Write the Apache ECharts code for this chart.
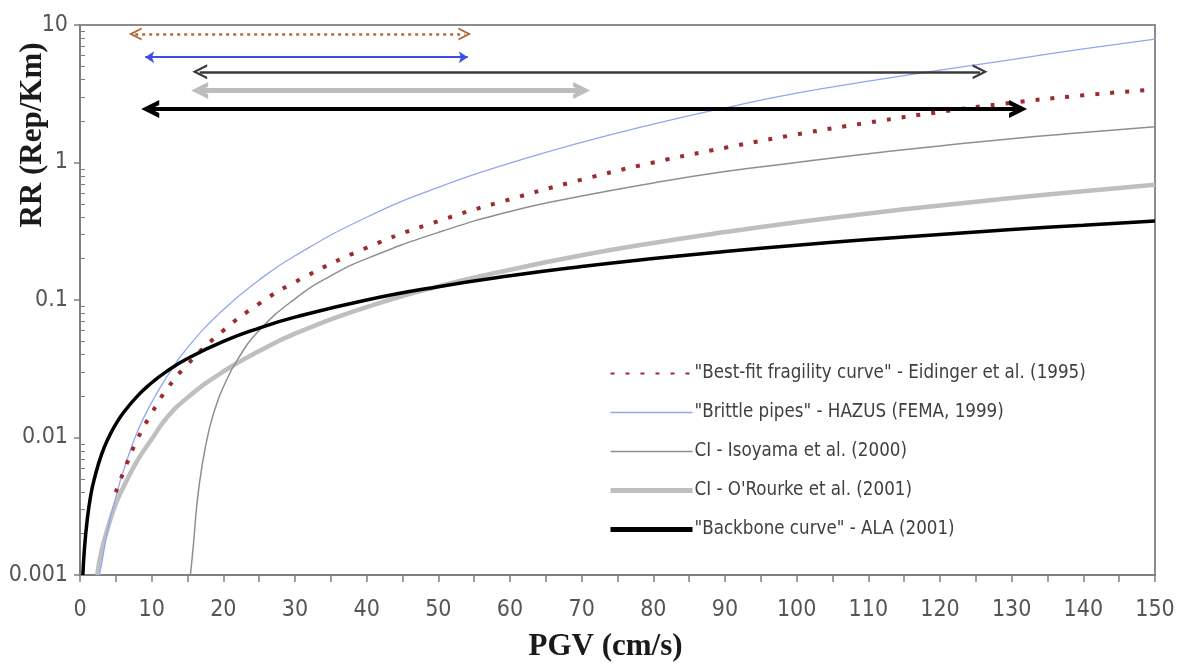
<!DOCTYPE html>
<html>
<head>
<meta charset="utf-8">
<script src="https://cdn.jsdelivr.net/npm/echarts@6/dist/echarts.min.js"></script>
<style>
  html, body { margin: 0; padding: 0; background: #fff; }
  #chart { width: 1180px; height: 667px; }
</style>
</head>
<body>
<div id="chart"></div>
<script>
'use strict';

// PGV (cm/s) and RR (Rep/Km)
var pgvEidinger = [5, 6, 8, 10, 12, 15, 20, 25, 30, 40, 50, 60, 70, 80, 90, 100, 110, 120, 130, 140, 150];
var rrEidinger = [0.004, 0.0055, 0.0097, 0.015, 0.022, 0.034, 0.06, 0.094, 0.135, 0.24, 0.375, 0.54, 0.75, 1.0, 1.28, 1.6, 1.95, 2.33, 2.72, 3.08, 3.4];

var pgvHazus = [2.7, 3, 4, 5, 6, 8, 10, 12, 15, 20, 25, 30, 40, 50, 60, 70, 80, 90, 100, 110, 120, 130, 140, 150];
var rrHazus = [0.001, 0.0012, 0.0023, 0.0037, 0.0056, 0.011, 0.018, 0.027, 0.045, 0.085, 0.14, 0.21, 0.4, 0.66, 0.99, 1.4, 1.9, 2.5, 3.2, 3.9, 4.7, 5.6, 6.7, 7.9];

var pgvIsoyama = [15.4, 15.8, 16.3, 17, 18, 19, 20, 22, 25, 30, 35, 40, 50, 60, 70, 80, 90, 100, 110, 120, 130, 140, 150];
var rrIsoyama = [0.001, 0.0016, 0.0032, 0.0061, 0.0113, 0.0171, 0.0233, 0.037, 0.06, 0.102, 0.15, 0.2, 0.31, 0.44, 0.57, 0.71, 0.86, 1.0, 1.16, 1.32, 1.49, 1.65, 1.82];

var pgvORourke = [2.4, 3, 4, 5, 6, 8, 10, 12, 15, 20, 25, 30, 40, 50, 60, 70, 80, 90, 100, 110, 120, 130, 140, 150];
var rrORourke = [0.001, 0.0015, 0.0023, 0.0033, 0.0043, 0.0068, 0.0097, 0.0137, 0.0195, 0.0302, 0.0425, 0.057, 0.0888, 0.1257, 0.166, 0.2115, 0.26, 0.312, 0.368, 0.426, 0.487, 0.551, 0.618, 0.69];

var pgvAla = [0.4, 0.6, 1, 1.5, 2, 3, 4, 5, 6, 8, 10, 12, 15, 20, 25, 30, 40, 50, 60, 70, 80, 90, 100, 110, 120, 130, 140, 150];
var rrAla = [0.001, 0.0015, 0.0025, 0.0038, 0.005, 0.0075, 0.01, 0.0125, 0.015, 0.02, 0.025, 0.03, 0.0375, 0.05, 0.0625, 0.075, 0.1, 0.125, 0.15, 0.175, 0.2, 0.225, 0.25, 0.275, 0.3, 0.325, 0.35, 0.375];

// validity ranges drawn as double arrows at the top
var rangeFrom = [7.7, 9.1, 16.7, 16.7, 9.8];
var rangeTo = [53.7, 54.1, 125.6, 70, 130.9];
var rangeRR = [8.6, 5.83, 4.57, 3.34, 2.45];

var names = [
  '"Best-fit fragility curve" - Eidinger et al. (1995)',
  '"Brittle pipes" - HAZUS (FEMA, 1999)',
  'CI - Isoyama et al. (2000)',
  'CI - O\'Rourke et al. (2001)',
  '"Backbone curve" - ALA (2001)'
];

var xTicks = [0, 150, 10];
var yTicks = [0.001, 10];
var yMinorTicks = [
  0.002, 0.003, 0.004, 0.005, 0.006, 0.007, 0.008, 0.009,
  0.02, 0.03, 0.04, 0.05, 0.06, 0.07, 0.08, 0.09,
  0.2, 0.3, 0.4, 0.5, 0.6, 0.7, 0.8, 0.9,
  2, 3, 4, 5, 6, 7, 8, 9
];

var labelFont = "'Liberation Sans Narrow', 'DejaVu Sans Condensed', 'Liberation Sans', sans-serif";
var titleFont = "'Liberation Serif', 'DejaVu Serif', serif";

var chevron = 'path://M0,10 L5,0 L10,10 L8.4,10 L5,3.2 L1.6,10 Z';
var chevronBold = 'path://M0,10 L5,0 L10,10 L7.2,10 L5,5.2 L2.8,10 Z';

var zip = function(xs, ys) {
  return xs.map(function(x, i) { return [x, ys[i]]; });
};

var curve = function(name, xs, ys, lineStyle, z) {
  return {
    name: name,
    type: 'line',
    data: zip(xs, ys),
    symbol: 'none',
    smooth: 0.5,
    z: z,
    itemStyle: { color: lineStyle.color },
    lineStyle: lineStyle
  };
};

var arrow = function(i, lineStyle, symbol, size) {
  lineStyle.opacity = 1;
  return {
    type: 'lines',
    coordinateSystem: 'cartesian2d',
    silent: true,
    z: 10,
    symbol: [symbol, symbol],
    symbolSize: size,
    lineStyle: lineStyle,
    data: [{ coords: [[rangeFrom[i], rangeRR[i]], [rangeTo[i], rangeRR[i]]] }]
  };
};

var chart = echarts.init(document.getElementById('chart'), null, { renderer: 'canvas' });

var axisGrey = '#7f7f7f';

chart.setOption({
  animation: false,
  backgroundColor: '#fff',
  grid: {
    left: 80, right: 25, top: 25, bottom: 90,
    show: true, borderColor: '#8c8c8c', borderWidth: 2
  },
  legend: {
    orient: 'vertical',
    left: 603, top: 359,
    itemWidth: 82, itemHeight: 14, itemGap: 20,
    data: [
      { name: names[0] },
      { name: names[1], lineStyle: { width: 1.5 } },
      { name: names[2], lineStyle: { width: 1.5 } },
      { name: names[3], lineStyle: { width: 5 } },
      { name: names[4], lineStyle: { width: 5 } }
    ],
    itemStyle: { color: 'rgba(0,0,0,0)', borderColor: 'rgba(0,0,0,0)', borderWidth: 0, opacity: 0 },
    textStyle: { fontFamily: labelFont, fontSize: 18.6, color: '#404040', lineHeight: 18, padding: [0, 0, 0, -3] }
  },
  xAxis: {
    type: 'value',
    min: xTicks[0], max: xTicks[1], interval: xTicks[2],
    name: 'PGV (cm/s)',
    nameLocation: 'middle',
    nameGap: 56,
    nameTextStyle: { fontFamily: titleFont, fontWeight: 'bold', fontSize: 31, color: '#1a1a1a', padding: [0, 24, 0, 0] },
    axisLine: { lineStyle: { color: axisGrey, width: 2 } },
    axisTick: { length: 7, lineStyle: { color: axisGrey, width: 1.5 } },
    minorTick: { show: true, splitNumber: 2, length: 7, lineStyle: { color: axisGrey, width: 1.5 } },
    splitLine: { show: false },
    axisLabel: { margin: 24, fontFamily: labelFont, fontSize: 23, color: '#555' }
  },
  yAxis: [{
    type: 'log',
    logBase: 10,
    min: yTicks[0], max: yTicks[1],
    axisLine: { lineStyle: { color: axisGrey, width: 2 } },
    axisTick: { length: 6, lineStyle: { color: axisGrey, width: 1.5 } },
    minorTick: { show: false },
    splitLine: { show: false },
    axisLabel: {
      margin: 12, fontFamily: labelFont, fontSize: 23, color: '#555',
      formatter: function(v) { return String(v); }
    }
  }, {
    // minor log ticks along the same left edge
    type: 'log',
    logBase: 10,
    position: 'left',
    min: yTicks[0], max: yTicks[1],
    axisLine: { show: false },
    axisTick: { inside: true, length: 5, customValues: yMinorTicks, lineStyle: { color: axisGrey, width: 1 } },
    axisLabel: { show: false },
    splitLine: { show: false }
  }],
  graphic: [{
    type: 'text',
    x: 33, y: 135,
    rotation: Math.PI / 2,
    style: {
      text: 'RR (Rep/Km)',
      font: 'bold 31px ' + titleFont,
      fill: '#1a1a1a',
      textAlign: 'center',
      textVerticalAlign: 'middle'
    }
  }],
  series: [
    curve(names[3], pgvORourke, rrORourke, { color: '#bfbfbf', width: 4.5 }, 2),
    curve(names[2], pgvIsoyama, rrIsoyama, { color: '#8f8f8f', width: 1.5 }, 3),
    curve(names[1], pgvHazus, rrHazus, { color: '#93a6f0', width: 1.3 }, 4),
    curve(names[0], pgvEidinger, rrEidinger, { color: '#9c2a30', width: 4, type: [4, 11], cap: 'butt' }, 5),
    curve(names[4], pgvAla, rrAla, { color: '#000', width: 3.5 }, 6),
    arrow(0, { color: '#b56a3e', width: 2.5, type: [3, 4] }, chevron, 13),
    arrow(1, { color: '#3d4fe3', width: 2 }, 'arrow', 9),
    arrow(2, { color: '#3a3a3a', width: 2.5 }, chevron, 15),
    arrow(3, { color: '#bdbdbd', width: 5 }, chevronBold, 17),
    arrow(4, { color: '#000', width: 4 }, chevronBold, 18)
  ]
});
</script>
</body>
</html>
